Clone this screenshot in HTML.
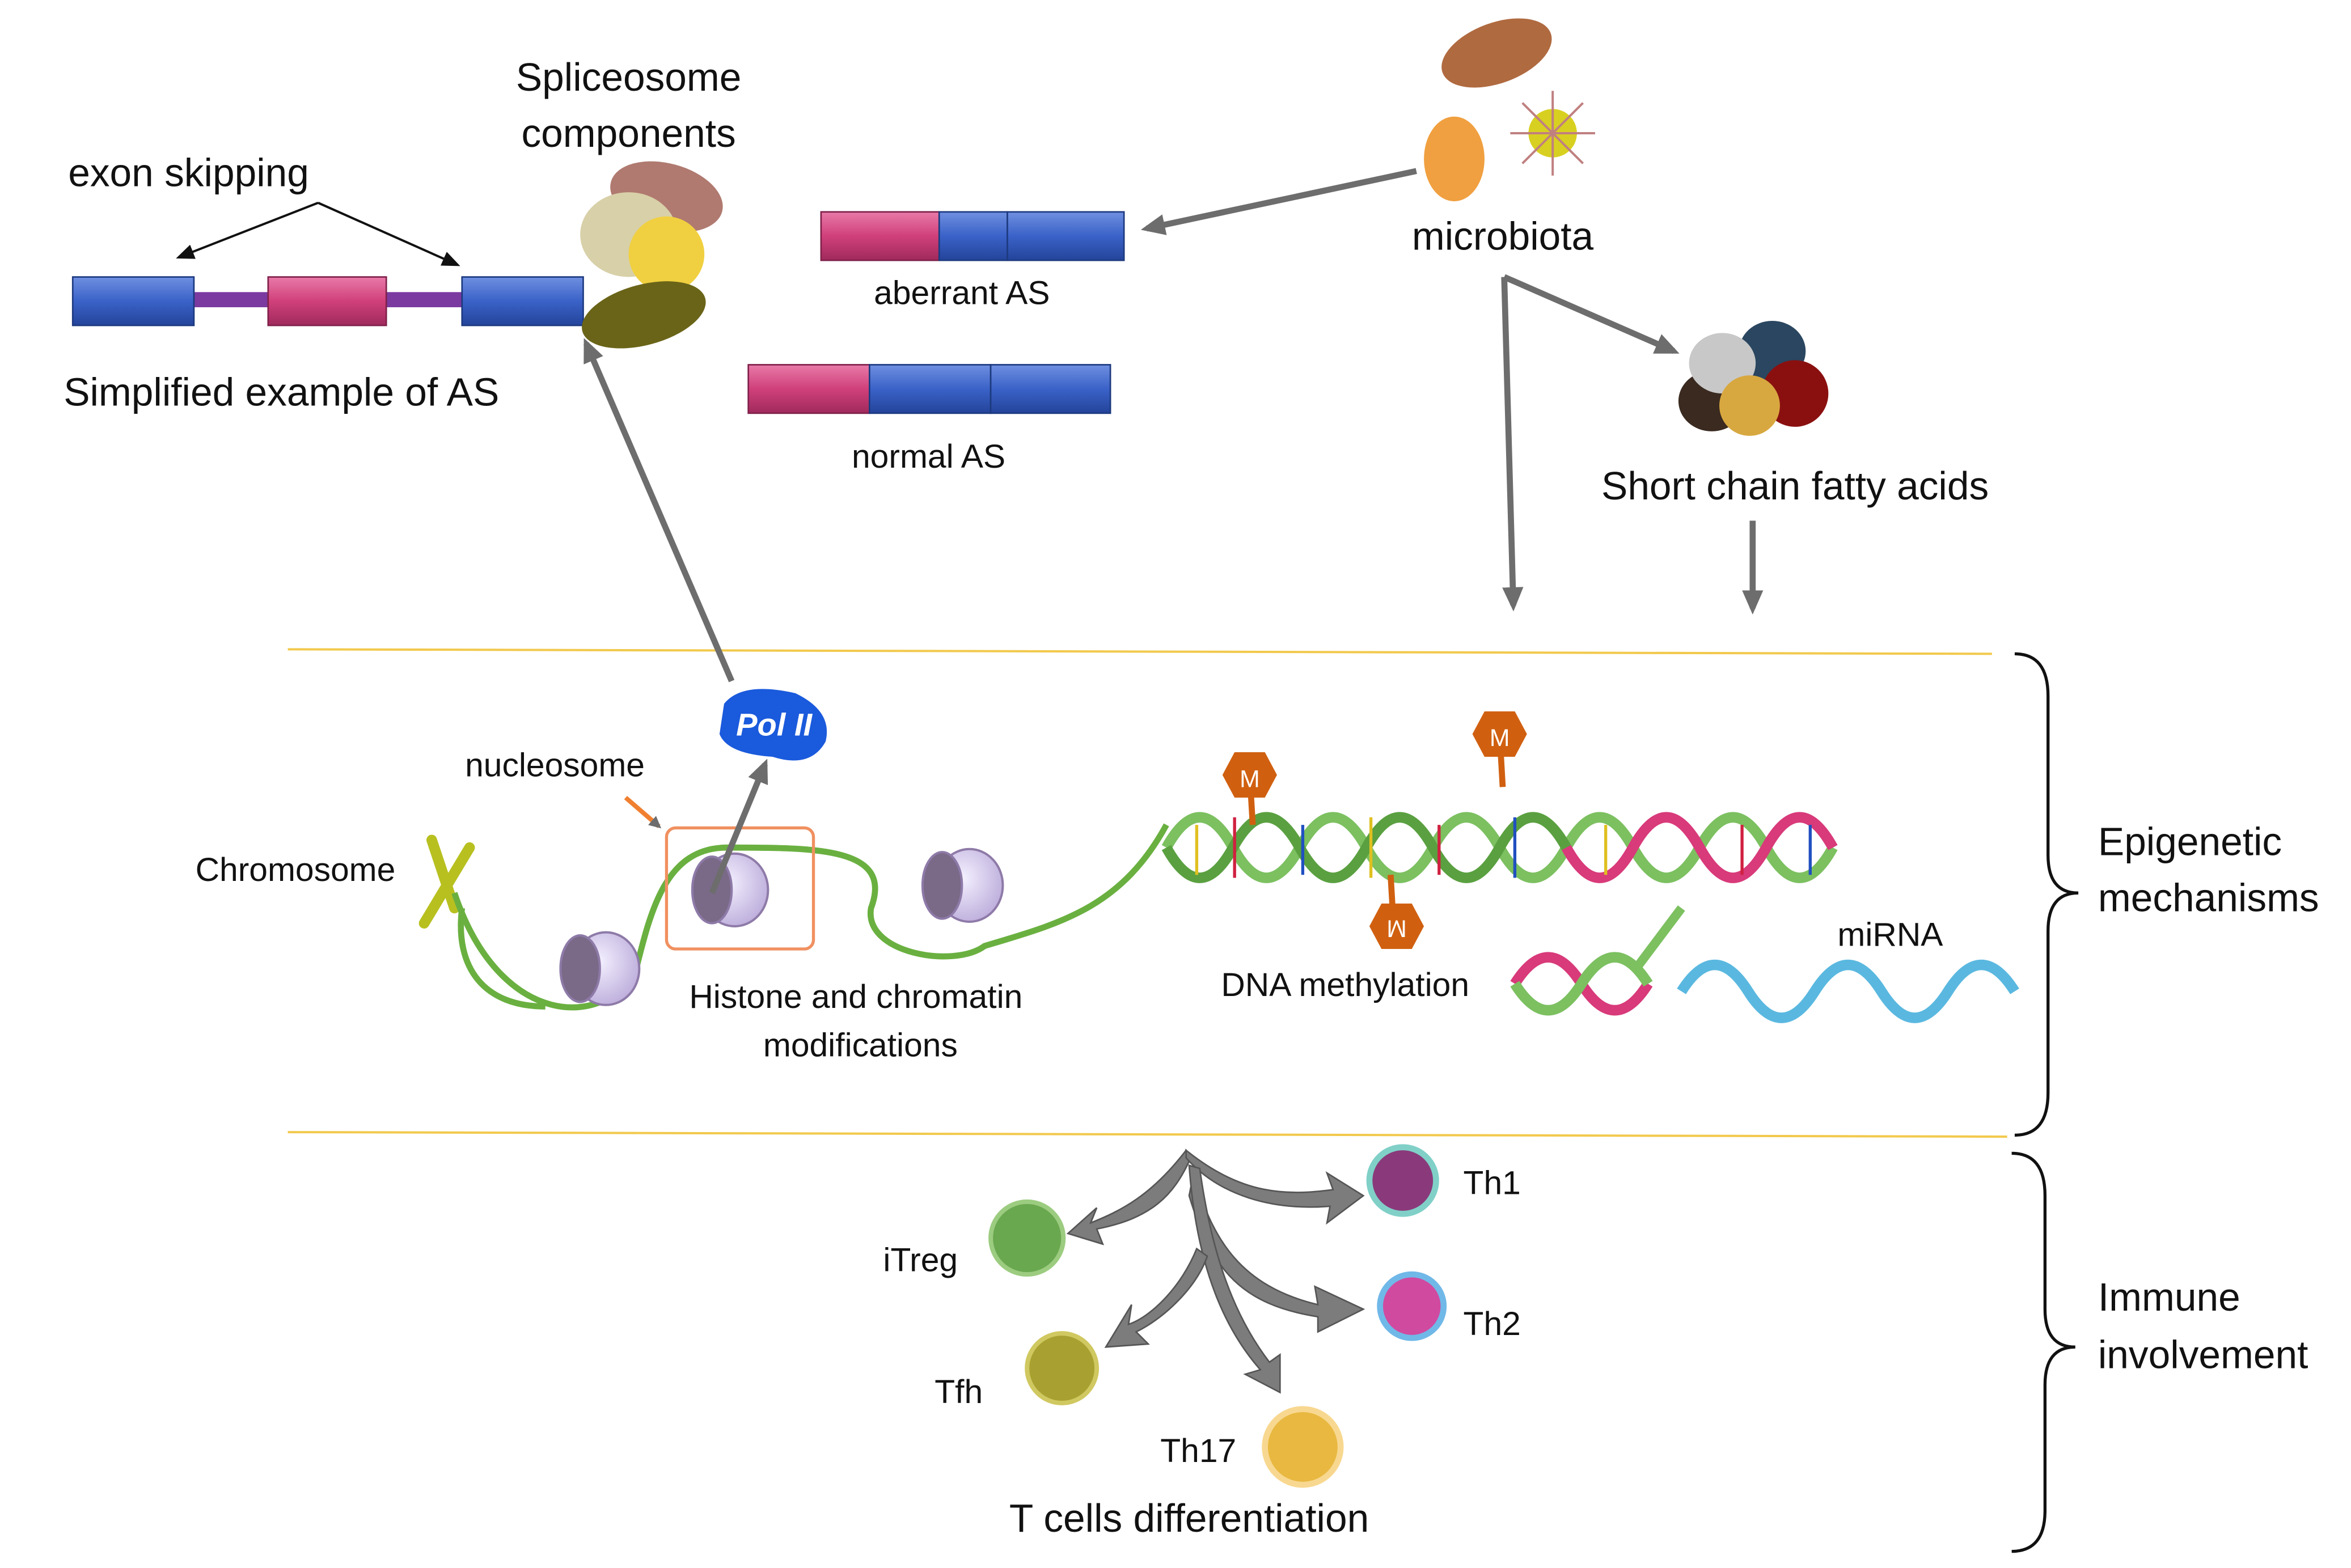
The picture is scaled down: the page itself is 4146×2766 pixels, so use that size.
<!DOCTYPE html>
<html><head><meta charset="utf-8"><style>html,body{margin:0;padding:0;background:#fff}svg{display:block}text{font-family:"Liberation Sans",sans-serif;fill:#111}</style></head><body>
<svg width="4146" height="2766" viewBox="0 0 1552 1036" preserveAspectRatio="none" xmlns="http://www.w3.org/2000/svg">
<defs>
<linearGradient id="bl" x1="0" y1="0" x2="0" y2="1"><stop offset="0" stop-color="#6f8fe0"/><stop offset=".5" stop-color="#3a62c8"/><stop offset="1" stop-color="#24449a"/></linearGradient>
<linearGradient id="pk" x1="0" y1="0" x2="0" y2="1"><stop offset="0" stop-color="#e87aa8"/><stop offset=".5" stop-color="#d0407a"/><stop offset="1" stop-color="#a02a5c"/></linearGradient>
<marker id="ag" markerWidth="8" markerHeight="8" refX="6" refY="4" orient="auto" markerUnits="userSpaceOnUse"><path d="M0,0 L8,4 L0,8 z" fill="#6d6d6d"/></marker>
<marker id="ab" markerWidth="12" markerHeight="10" refX="10" refY="5" orient="auto" markerUnits="userSpaceOnUse"><path d="M0,0 L12,5 L0,10 z" fill="#111"/></marker>
<marker id="agb" markerWidth="16" markerHeight="14" refX="12" refY="7" orient="auto" markerUnits="userSpaceOnUse"><path d="M0,0 L16,7 L0,14 z" fill="#6d6d6d"/></marker>
<radialGradient id="cyl" cx=".4" cy=".4" r=".7"><stop offset="0" stop-color="#f4f0ff"/><stop offset="1" stop-color="#b8a8d8"/></radialGradient>
</defs>
<text x="415" y="60" font-size="26" text-anchor="middle">Spliceosome</text>
<text x="415" y="97" font-size="26" text-anchor="middle">components</text>
<text x="45" y="123" font-size="26">exon skipping</text>
<line x1="210" y1="134" x2="118" y2="170" stroke="#111" stroke-width="1.5" marker-end="url(#ab)"/>
<line x1="210" y1="134" x2="302" y2="175" stroke="#111" stroke-width="1.5" marker-end="url(#ab)"/>
<rect x="128" y="193" width="50" height="10" fill="#7a3aa0"/><rect x="255" y="193" width="50" height="10" fill="#7a3aa0"/>
<rect x="48" y="183" width="80" height="32" fill="url(#bl)" stroke="#1d3a80"/>
<rect x="177" y="183" width="78" height="32" fill="url(#pk)" stroke="#80204a"/>
<rect x="305" y="183" width="80" height="32" fill="url(#bl)" stroke="#1d3a80"/>
<text x="42" y="268" font-size="26">Simplified example of AS</text>
<ellipse cx="440" cy="130" rx="38" ry="22" fill="#b07a70" transform="rotate(15 440 130)"/>
<ellipse cx="415" cy="155" rx="32" ry="28" fill="#d8d0a8"/>
<ellipse cx="440" cy="168" rx="25" ry="25" fill="#f0d040"/>
<ellipse cx="425" cy="208" rx="42" ry="20" fill="#6a6418" transform="rotate(-15 425 208)"/>
<rect x="542" y="140" width="78" height="32" fill="url(#pk)" stroke="#80204a"/>
<rect x="620" y="140" width="45" height="32" fill="url(#bl)" stroke="#1d3a80"/>
<rect x="665" y="140" width="77" height="32" fill="url(#bl)" stroke="#1d3a80"/>
<text x="635" y="201" font-size="22" text-anchor="middle">aberrant AS</text>
<rect x="494" y="241" width="80" height="32" fill="url(#pk)" stroke="#80204a"/>
<rect x="574" y="241" width="80" height="32" fill="url(#bl)" stroke="#1d3a80"/>
<rect x="654" y="241" width="79" height="32" fill="url(#bl)" stroke="#1d3a80"/>
<text x="613" y="309" font-size="22" text-anchor="middle">normal AS</text>
<line x1="935" y1="113" x2="757" y2="151" stroke="#6d6d6d" stroke-width="4" marker-end="url(#agb)"/>
<ellipse cx="988" cy="35" rx="38" ry="20" fill="#b06a40" transform="rotate(-20 988 35)"/>
<ellipse cx="960" cy="105" rx="20" ry="28" fill="#f0a040"/>
<circle cx="1025" cy="88" r="16" fill="#d8d020"/>
<g stroke="#c08080" stroke-width="1.5"><line x1="1025" y1="60" x2="1025" y2="116"/><line x1="997" y1="88" x2="1053" y2="88"/><line x1="1005" y1="68" x2="1045" y2="108"/><line x1="1045" y1="68" x2="1005" y2="108"/></g>
<text x="992" y="165" font-size="26" text-anchor="middle">microbiota</text>
<line x1="993" y1="183" x2="999" y2="400" stroke="#6d6d6d" stroke-width="4" marker-end="url(#agb)"/>
<line x1="993" y1="183" x2="1105" y2="232" stroke="#6d6d6d" stroke-width="4" marker-end="url(#agb)"/>
<ellipse cx="1130" cy="265" rx="22" ry="20" fill="#3a2a20"/>
<ellipse cx="1170" cy="232" rx="22" ry="20" fill="#2a4660"/>
<ellipse cx="1137" cy="240" rx="22" ry="20" fill="#c8c8c8"/>
<ellipse cx="1185" cy="260" rx="22" ry="22" fill="#8a1010"/>
<ellipse cx="1155" cy="268" rx="20" ry="20" fill="#d8a840"/>
<text x="1185" y="330" font-size="26" text-anchor="middle">Short chain fatty acids</text>
<line x1="1157" y1="344" x2="1157" y2="402" stroke="#6d6d6d" stroke-width="4" marker-end="url(#agb)"/>
<line x1="190" y1="429" x2="1315" y2="432" stroke="#f2c94c" stroke-width="1.5"/>
<line x1="190" y1="748" x2="1325" y2="751" stroke="#f2c94c" stroke-width="1.5"/>
<path d="M1330,432 Q1352,432 1352,460 L1352,565 Q1352,590 1372,590 Q1352,590 1352,615 L1352,722 Q1352,750 1330,750" fill="none" stroke="#111" stroke-width="2"/>
<path d="M1328,762 Q1350,762 1350,790 L1350,865 Q1350,890 1370,890 Q1350,890 1350,915 L1350,998 Q1350,1025 1328,1025" fill="none" stroke="#111" stroke-width="2"/>
<text x="1385" y="565" font-size="26">Epigenetic</text><text x="1385" y="602" font-size="26">mechanisms</text>
<text x="1385" y="866" font-size="26">Immune</text><text x="1385" y="904" font-size="26">involvement</text>
<line x1="483" y1="450" x2="387" y2="227" stroke="#6d6d6d" stroke-width="4" marker-end="url(#agb)"/>
<path d="M478,465 Q490,450 525,458 Q550,470 545,490 Q535,508 510,500 Q480,498 475,485 Z" fill="#1a5adc"/>
<text x="511" y="486" font-size="21" font-weight="bold" font-style="italic" text-anchor="middle" style="fill:#fff">Pol II</text>
<text x="307" y="513" font-size="22">nucleosome</text>
<line x1="413" y1="527" x2="435" y2="546" stroke="#f08030" stroke-width="3" marker-end="url(#ag)"/>
<text x="129" y="582" font-size="22">Chromosome</text>
<path d="M285,555 L300,600 M310,560 L280,610" stroke="#b8c020" stroke-width="7" stroke-linecap="round"/>
<path d="M300,590 C330,680 400,680 420,640 C430,600 440,560 480,560 C540,560 590,560 575,600 C570,630 630,640 650,625 C700,610 740,600 770,545" fill="none" stroke="#6ab040" stroke-width="4"/>
<path d="M305,600 C300,640 320,665 360,665" fill="none" stroke="#6ab040" stroke-width="4"/>
<g stroke="#8e7aa8" stroke-width="1.5">
<ellipse cx="400" cy="640" rx="22" ry="24" fill="url(#cyl)"/><ellipse cx="383" cy="640" rx="13" ry="22" fill="#7a6a88"/>
<ellipse cx="485" cy="588" rx="22" ry="24" fill="url(#cyl)"/><ellipse cx="470" cy="588" rx="13" ry="22" fill="#7a6a88"/>
<ellipse cx="640" cy="585" rx="22" ry="24" fill="url(#cyl)"/><ellipse cx="622" cy="585" rx="13" ry="22" fill="#7a6a88"/>
</g>
<rect x="440" y="547" width="97" height="80" rx="6" fill="none" stroke="#f09060" stroke-width="2"/>
<line x1="470" y1="590" x2="505" y2="505" stroke="#6d6d6d" stroke-width="4" marker-end="url(#agb)"/>
<text x="565" y="666" font-size="22" text-anchor="middle">Histone and chromatin</text>
<text x="568" y="698" font-size="22" text-anchor="middle">modifications</text>
<g fill="none" stroke-width="7">
<path d="M770,560 q22,-40 44,0 t44,0 t44,0 t44,0 t44,0 t44,0 t44,0 t44,0 t44,0 t44,0" stroke="#7cc060"/>
<path d="M770,560 q22,40 44,0 t44,0 t44,0 t44,0 t44,0 t44,0" stroke="#5aa040"/>
<path d="M1034,560 q22,40 44,0 t44,0 t44,0 t44,0" stroke="#d83a7a"/>
<path d="M1000,650 q22,-35 44,0 t44,0" stroke="#d83a7a"/>
<path d="M1000,650 q22,35 44,0 t44,0" stroke="#7cc060"/>
<path d="M1110,655 q22,-35 44,0 t44,0 t44,0 t44,0 t44,0" stroke="#5ab8e0"/>
</g>
<path d="M1110,600 L1080,640" stroke="#7cc060" stroke-width="6"/>
<g stroke-width="2">
<line x1="790" y1="545" x2="790" y2="578" stroke="#e0c020"/><line x1="815" y1="540" x2="815" y2="580" stroke="#d02040"/><line x1="860" y1="545" x2="860" y2="578" stroke="#2050c0"/><line x1="905" y1="540" x2="905" y2="580" stroke="#e0c020"/><line x1="950" y1="545" x2="950" y2="578" stroke="#d02040"/><line x1="1000" y1="540" x2="1000" y2="580" stroke="#2050c0"/><line x1="1060" y1="545" x2="1060" y2="578" stroke="#e0c020"/><line x1="1150" y1="545" x2="1150" y2="578" stroke="#d02040"/><line x1="1195" y1="545" x2="1195" y2="578" stroke="#2050c0"/>
</g>
<g fill="#d06010">
<line x1="825" y1="512" x2="827" y2="545" stroke="#d06010" stroke-width="4"/><polygon points="815,497 835,497 843,512 835,527 815,527 807,512"/>
<line x1="990" y1="485" x2="992" y2="520" stroke="#d06010" stroke-width="4"/><polygon points="980,470 1000,470 1008,485 1000,500 980,500 972,485"/>
<line x1="918" y1="578" x2="920" y2="612" stroke="#d06010" stroke-width="4"/><polygon points="912,597 932,597 940,612 932,627 912,627 904,612"/>
</g>
<text x="825" y="520" font-size="16" text-anchor="middle" style="fill:#fff">M</text>
<text x="990" y="493" font-size="16" text-anchor="middle" style="fill:#fff">M</text>
<text x="922" y="620" font-size="16" text-anchor="middle" style="fill:#fff" transform="rotate(180 922 614)">M</text>
<text x="888" y="658" font-size="22" text-anchor="middle">DNA methylation</text>
<text x="1213" y="625" font-size="22">miRNA</text>
<g fill="#7c7c7c" stroke="#555" stroke-width="1">
<path d="M783,760 C760,790 740,800 720,808 L724,798 L705,815 L728,822 L724,812 C760,805 775,790 786,765 Z"/>
<path d="M783,760 C820,790 850,790 880,786 L876,775 L900,790 L876,808 L878,797 C840,800 805,790 783,765 Z"/>
<path d="M788,775 C800,820 820,850 870,862 L868,850 L900,865 L870,880 L870,870 C820,862 800,840 785,790 Z"/>
<path d="M785,770 C790,840 810,880 832,905 L822,908 L845,920 L845,895 L838,900 C815,870 800,830 792,772 Z"/>
<path d="M790,825 C780,850 760,870 745,875 L747,862 L730,890 L758,888 L750,880 C770,870 790,850 797,830 Z"/>
</g>
<circle cx="678" cy="818" r="24" fill="#6aa850" stroke="#9ccc80" stroke-width="3"/>
<circle cx="926" cy="780" r="22" fill="#8a3a7a" stroke="#80d0c8" stroke-width="4"/>
<circle cx="932" cy="863" r="21" fill="#d04aa0" stroke="#70b8e8" stroke-width="4"/>
<circle cx="701" cy="904" r="23" fill="#a8a030" stroke="#d0c860" stroke-width="3"/>
<circle cx="860" cy="956" r="25" fill="#e8b840" stroke="#f8d890" stroke-width="4"/>
<text x="966" y="789" font-size="22">Th1</text>
<text x="966" y="882" font-size="22">Th2</text>
<text x="583" y="840" font-size="22">iTreg</text>
<text x="617" y="927" font-size="22">Tfh</text>
<text x="766" y="966" font-size="22">Th17</text>
<text x="785" y="1012" font-size="26" text-anchor="middle">T cells differentiation</text>
</svg>
</body></html>
